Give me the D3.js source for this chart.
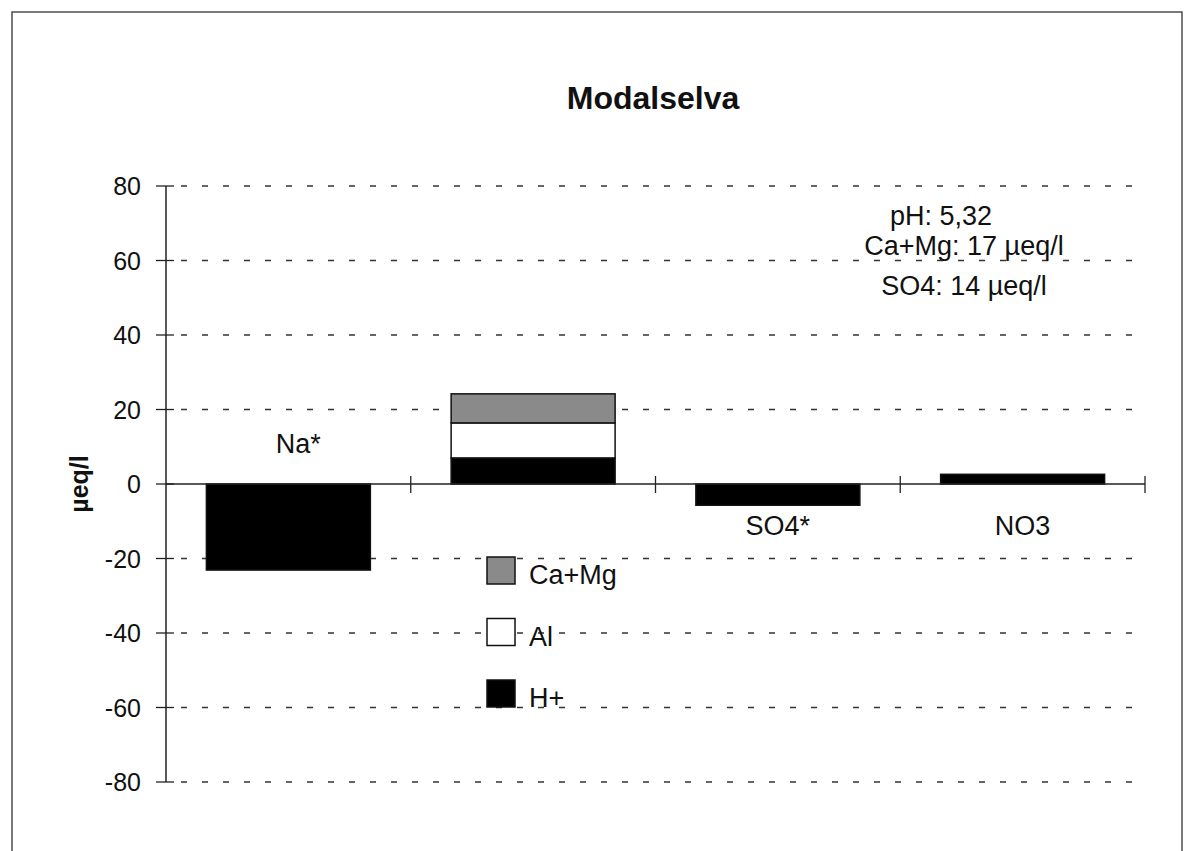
<!DOCTYPE html>
<html>
<head>
<meta charset="utf-8">
<script src="https://cdn.jsdelivr.net/npm/d3@7"></script>
<style>
  html, body { margin: 0; padding: 0; background: #fff; }
  svg { display: block; }
  text { font-family: "Liberation Sans", Arial, sans-serif; fill: #111; }
</style>
</head>
<body>
<svg id="chart" width="1194" height="851"></svg>
<script>
// ---- data ----
const title = "Modalselva";
const categories = ["Na*", "", "SO4*", "NO3"];
const seriesNames = ["H+", "Al", "Ca+Mg"];
const hPlus = [-23.1, 7.0, -5.7, 2.6];
const al    = [0, 9.4, 0, 0];
const caMg  = [0, 7.8, 0, 0];
const yTicks = [-80, -60, -40, -20, 0, 20, 40, 60, 80];
const yLabel = "µeq/l";
const notes = ["pH: 5,32", "Ca+Mg: 17 µeq/l", "SO4: 14 µeq/l"];
const legendOrder = ["Ca+Mg", "Al", "H+"];

// ---- setup ----
const svg = d3.select("#chart");
const colors = { "H+": "#000000", "Al": "#ffffff", "Ca+Mg": "#8a8a8a" };

const rows = categories.map((c, i) => ({ cat: c, "H+": hPlus[i], "Al": al[i], "Ca+Mg": caMg[i] }));
const stacked = d3.stack().keys(seriesNames).offset(d3.stackOffsetDiverging)(rows);

const x = d3.scaleBand().domain(categories).range([166, 1145]).paddingInner(0.33).paddingOuter(0.165);
const y = d3.scaleLinear().domain([-80, 80]).range([782, 186]);

// frame
svg.append("rect").attr("x", 12).attr("y", 12).attr("width", 1170).attr("height", 880)
  .attr("fill", "none").attr("stroke", "#222").attr("stroke-width", 1.2);

// title
svg.append("text").attr("x", 653).attr("y", 109).attr("text-anchor", "middle")
  .style("font-size", "32px").style("font-weight", "bold").text(title);

// gridlines
svg.append("g").selectAll("line").data(yTicks.filter(d => d !== 0)).join("line")
  .attr("x1", 181).attr("x2", 1142)
  .attr("y1", d => y(d)).attr("y2", d => y(d))
  .attr("stroke", "#333").attr("stroke-width", 1.3).attr("stroke-dasharray", "6,15");

// bars
const g = svg.append("g");
stacked.forEach(s => {
  g.selectAll(null).data(s.filter(d => d[1] - d[0] !== 0)).join("rect")
    .attr("x", d => x(d.data.cat))
    .attr("width", x.bandwidth())
    .attr("y", d => y(Math.max(d[0], d[1])))
    .attr("height", d => Math.abs(y(d[0]) - y(d[1])))
    .attr("fill", colors[s.key])
    .attr("stroke", "#111").attr("stroke-width", 1.5);
});

// y axis
const yAxis = svg.append("g");
yAxis.append("line").attr("x1", 166).attr("x2", 166).attr("y1", y(80)).attr("y2", y(-80))
  .attr("stroke", "#222").attr("stroke-width", 1.5);
yAxis.selectAll(".tk").data(yTicks).join("line")
  .attr("x1", 156).attr("x2", 174).attr("y1", d => y(d)).attr("y2", d => y(d))
  .attr("stroke", "#222").attr("stroke-width", 1.3);
yAxis.selectAll("text").data(yTicks).join("text")
  .attr("x", 141).attr("y", d => y(d)).attr("dy", "0.36em").attr("text-anchor", "end")
  .style("font-size", "25px").text(d => d);

// y label
svg.append("text").attr("transform", `translate(88,${y(0)}) rotate(-90)`)
  .attr("text-anchor", "middle").style("font-size", "25px").style("font-weight", "bold").text(yLabel);

// x axis at zero
svg.append("line").attr("x1", 166).attr("x2", 1145).attr("y1", y(0)).attr("y2", y(0))
  .attr("stroke", "#222").attr("stroke-width", 1.5);
svg.append("g").selectAll("line").data(categories).join("line")
  .attr("x1", (d, i) => 166 + (i + 1) * x.step()).attr("x2", (d, i) => 166 + (i + 1) * x.step())
  .attr("y1", y(0) - 8).attr("y2", y(0) + 9)
  .attr("stroke", "#222").attr("stroke-width", 1.3);

// category labels (first above the axis, others below)
svg.append("g").selectAll("text").data(categories).join("text")
  .attr("x", (d, i) => x(d) + x.bandwidth() / 2 + (i === 0 ? 10 : 0))
  .attr("y", (d, i) => i === 0 ? y(0) - 31 : y(0) + 51)
  .attr("text-anchor", "middle").style("font-size", "27px").text(d => d);

// annotation
const noteX = [941, 964, 964];
const noteY = [225, 255, 295];
svg.append("g").selectAll("text").data(notes).join("text")
  .attr("x", (d, i) => noteX[i]).attr("y", (d, i) => noteY[i])
  .attr("text-anchor", "middle").style("font-size", "27px").text(d => d);

// legend
const lg = svg.append("g").selectAll("g").data(legendOrder).join("g")
  .attr("transform", (d, i) => `translate(487,${557 + i * 61.5})`);
lg.append("rect").attr("width", 28).attr("height", 27)
  .attr("fill", d => colors[d]).attr("stroke", "#111").attr("stroke-width", 1.5);
lg.append("text").attr("x", 42).attr("y", 27).style("font-size", "27px").text(d => d);
</script>
</body>
</html>
